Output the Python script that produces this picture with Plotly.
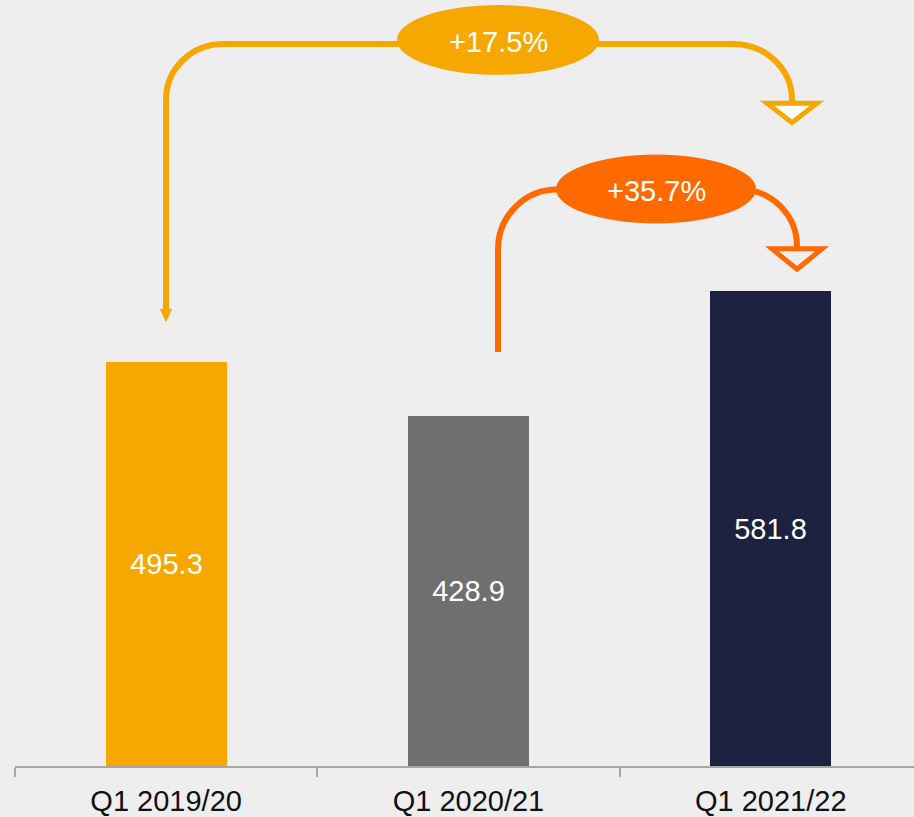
import plotly.graph_objects as go

# ---- data ----
categories = ["Q1 2019/20", "Q1 2020/21", "Q1 2021/22"]
values = [495.3, 428.9, 581.8]
bar_colors = ["#F7A800", "#6F6F6F", "#1C2140"]
growth_labels = ["+17.5%", "+35.7%"]

# ---- layout constants ----
W, H = 914, 817
ML, MR, MT, MB = 15, 0, 0, 49
XR = [-0.5, 2.474]
YR = [0, 939.2]
BG = "#EEEEEE"
ORANGE = "#F7A800"
DARK_ORANGE = "#FF6A00"
FONT = "Liberation Sans, Arial, sans-serif"

pw = W - ML - MR
ph = H - MT - MB


def px2x(px):
    return XR[0] + (px - ML) / pw * (XR[1] - XR[0])


def px2y(py):
    return YR[0] + (H - MB - py) / ph * (YR[1] - YR[0])


def P(px, py):
    return f"{px2x(px):.5f},{px2y(py):.4f}"


K = 0.5523

fig = go.Figure()
fig.add_trace(go.Bar(
    x=[0, 1, 2], y=values, width=0.4,
    marker=dict(color=bar_colors, line=dict(width=0)),
    text=[f"{v:.1f}" for v in values],
    textposition="inside", insidetextanchor="middle",
    textfont=dict(color="white", size=29, family=FONT),
    constraintext="none", hoverinfo="skip",
))

shapes = []

# arrow 1 (orange) : from bar 1 up, across, down to bar 3
x1v, yc1, xh1, yh = 166, 100, 223, 44
xh2, x2v, yc2 = 733, 792, 100
path1 = (f"M {P(x1v, 311)} L {P(x1v, yc1)} "
         f"C {P(x1v, yc1 - K*(yc1-yh))} {P(xh1 - K*(xh1-x1v), yh)} {P(xh1, yh)} "
         f"L {P(xh2, yh)} "
         f"C {P(xh2 + K*(x2v-xh2), yh)} {P(x2v, yc2 - K*(yc2-yh))} {P(x2v, yc2)} "
         f"L {P(x2v, 104)}")
shapes.append(dict(type="path", path=path1, xref="x", yref="y",
                   line=dict(color=ORANGE, width=6), layer="above"))
# small filled arrowhead pointing at bar 1
shapes.append(dict(type="path", xref="x", yref="y",
                   path=f"M {P(160.5, 310)} L {P(171.5, 310)} L {P(166, 322)} Z",
                   fillcolor=ORANGE, line=dict(color=ORANGE, width=1), layer="above"))
# open triangle arrowhead over bar 3
shapes.append(dict(type="path", xref="x", yref="y",
                   path=f"M {P(767, 103.5)} L {P(817, 103.5)} L {P(792, 123)} Z",
                   fillcolor="white", line=dict(color=ORANGE, width=5), layer="above"))

# arrow 2 (dark orange)
a1v, ac1, ah1, ahy = 498, 250, 557, 190
ah2, a2v, ac2 = 740, 797, 247
path2 = (f"M {P(a1v, 353)} L {P(a1v, ac1)} "
         f"C {P(a1v, ac1 - K*(ac1-ahy))} {P(ah1 - K*(ah1-a1v), ahy)} {P(ah1, ahy)} "
         f"L {P(ah2, ahy)} "
         f"C {P(ah2 + K*(a2v-ah2), ahy)} {P(a2v, ac2 - K*(ac2-ahy))} {P(a2v, ac2)} "
         f"L {P(a2v, 250)}")
shapes.append(dict(type="path", path=path2, xref="x", yref="y",
                   line=dict(color=DARK_ORANGE, width=6), layer="above"))
shapes.append(dict(type="path", xref="x", yref="y",
                   path=f"M {P(772, 249.5)} L {P(822, 249.5)} L {P(797, 270)} Z",
                   fillcolor=BG, line=dict(color=DARK_ORANGE, width=5), layer="above"))

# ellipses
shapes.append(dict(type="circle", xref="x", yref="y",
                   x0=px2x(397), x1=px2x(599), y0=px2y(75), y1=px2y(5),
                   fillcolor=ORANGE, line=dict(width=0), layer="above"))
shapes.append(dict(type="circle", xref="x", yref="y",
                   x0=px2x(556), x1=px2x(756), y0=px2y(224), y1=px2y(155),
                   fillcolor=DARK_ORANGE, line=dict(width=0), layer="above"))

annotations = [
    dict(x=px2x(498), y=px2y(42), xref="x", yref="y", text=growth_labels[0],
         showarrow=False, font=dict(color="white", size=29, family=FONT)),
    dict(x=px2x(656), y=px2y(191), xref="x", yref="y", text=growth_labels[1],
         showarrow=False, font=dict(color="white", size=29, family=FONT)),
]

fig.update_layout(
    width=W, height=H,
    margin=dict(l=ML, r=MR, t=MT, b=MB, pad=0),
    paper_bgcolor=BG, plot_bgcolor=BG,
    showlegend=False, bargap=0,
    shapes=shapes, annotations=annotations,
    xaxis=dict(range=XR, tickmode="array", tickvals=[0, 1, 2], ticktext=categories,
               ticks="outside", ticklen=8, tickcolor="rgba(0,0,0,0)",
               showline=True, linecolor="#A6A6A6", linewidth=2,
               showgrid=False, zeroline=False,
               tickfont=dict(size=29, color="#111111", family=FONT),
               minor=dict(tickmode="array", tickvals=[-0.5, 0.5, 1.5, 2.5],
                          ticks="outside", ticklen=9, tickwidth=2,
                          tickcolor="#A6A6A6", showgrid=False),
               fixedrange=True),
    yaxis=dict(range=YR, visible=False, showgrid=False, zeroline=False, fixedrange=True),
)

fig.write_html("out.html", config={"displayModeBar": False},
               post_script="document.body.style.margin='0';document.body.style.overflow='hidden';")
